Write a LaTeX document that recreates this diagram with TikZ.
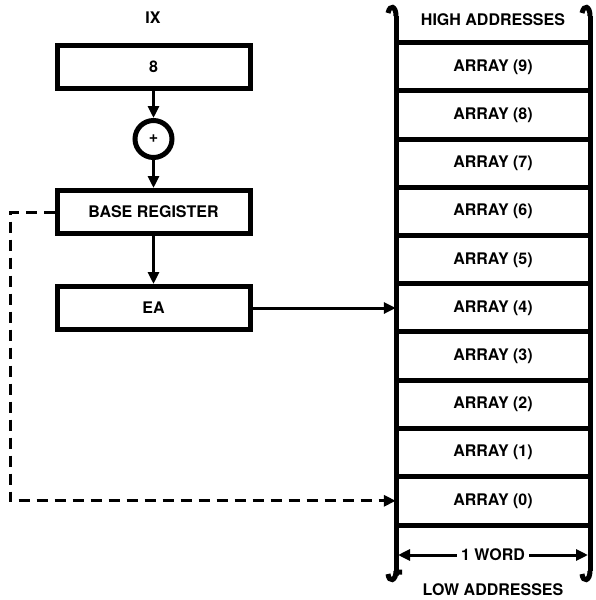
\documentclass[tikz,border=0pt]{standalone}
\usepackage{fontspec}
\setmainfont{TeX Gyre Heros}
\usetikzlibrary{arrows.meta,positioning,calc}
\tikzset{reg/.style={draw,line width=5pt,minimum width=193pt,minimum height=43pt,inner sep=0pt},
 cell/.style={minimum width=194pt,minimum height=48.2pt,inner sep=0pt},
 lbl/.style={font=\fontsize{16}{19}\selectfont\bfseries},
 wall/.style={line width=5pt},
 sep/.style={line width=5pt},
 flow/.style={line width=3pt,-{Triangle[length=12pt,width=11pt]}},
 ptr/.style={flow,dash pattern=on 11pt off 7pt},
 adder/.style={draw,circle,line width=5pt,minimum size=37pt,inner sep=0pt}}

\begin{document}
\begin{tikzpicture}[x=1pt,y=-1pt]
\useasboundingbox (0,0) rectangle (596,600);
\node[lbl](ix) at(153,18){IX};
\node[reg,lbl](ixr) at(153.5,66.5){8};
\node[adder,lbl](add) at(153.5,139){+};
\node[reg,lbl](base) at(153.5,212){BASE REGISTER};
\node[reg,lbl](ea) at(153.5,308){EA};
\draw[flow](ixr)--(add);\draw[flow](add)--(base);\draw[flow](base)--(ea);
% memory column
\node[cell,lbl](high) at(493,20){HIGH ADDRESSES};
\foreach \k in {9,...,0}{
 \node[cell,lbl](m\k) at(493,{67+(9-\k)*48.2}){ARRAY (\k)};
 \draw[sep](m\k.north west)--(m\k.north east);}
\draw[sep](m0.south west)--(m0.south east);
\coordinate(tl) at(396,16);\coordinate(tr) at(590,16);
\coordinate(bl) at(396,571);\coordinate(br) at(590,571);
\draw[wall](tl)--(bl)(tr)--(br);
\draw[wall](tl) .. controls +(0,-10) and +(2,-9) .. ++(-8,-3);
\draw[wall](tr) .. controls +(0,-10) and +(2,-9) .. ++(-8,-3);
\draw[wall](bl) .. controls +(0,10) and +(1,9) .. ++(-8,3);
\draw[wall](bl) ++(0,4) .. controls +(1,-4) and +(-2,0) .. ++(6,-3);
\draw[wall](br) .. controls +(0,10) and +(1,9) .. ++(-8,3);
\node[lbl,fill=white,inner xsep=4pt](word) at(493,555){1 WORD};
\coordinate(wl) at(398,555);\coordinate(wr) at(588,555);
\draw[flow](word.west)--(wl);\draw[flow](word.east)--(wr);
\node[lbl](low) at(493,590){LOW ADDRESSES};
% pointers
\draw[flow](ea.east)--(ea.east-|m4.west);
\coordinate(c1) at(10,212);
\draw[ptr](base.west)--(c1)--(c1|-m0)--(m0.west);
\end{tikzpicture}
\end{document}
